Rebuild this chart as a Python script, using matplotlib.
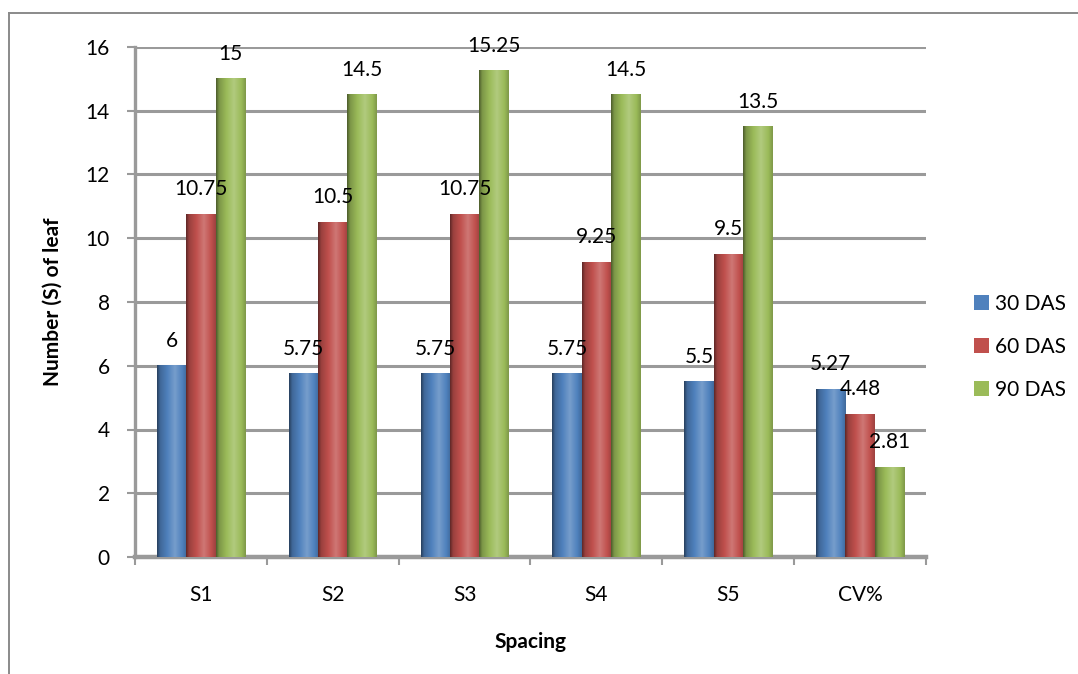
import matplotlib
matplotlib.use("Agg")
import matplotlib.pyplot as plt
import numpy as np
from matplotlib.colors import to_rgb
from matplotlib.lines import Line2D
from matplotlib.patches import Patch

plt.rcParams["font.family"] = ["Lato", "DejaVu Sans"]

categories = ["S1", "S2", "S3", "S4", "S5", "CV%"]
series_names = ["30 DAS", "60 DAS", "90 DAS"]
das30 = [6, 5.75, 5.75, 5.75, 5.5, 5.27]
das60 = [10.75, 10.5, 10.75, 9.25, 9.5, 4.48]
das90 = [15, 14.5, 15.25, 14.5, 13.5, 2.81]
colors = ["#4F81BD", "#C0504D", "#9BBB59"]

GRID = "#9a9a9a"
FS = 15


def cylinder(color, n=64):
    """Horizontal shading strip that makes a flat bar read as a cylinder."""
    base = np.array(to_rgb(color))
    t = np.linspace(0, 1, n)
    f = np.interp(t, [0, 0.1, 0.35, 0.6, 0.85, 1], [0.5, 0.8, 1.0, 1.14, 1.0, 0.82])
    rows = []
    for v in f:
        if v < 1:
            rows.append(base * v)
        else:
            rows.append(base + (1 - base) * (v - 1) * 1.6)
    return np.clip(np.array(rows), 0, 1)[None, :, :]


fig = plt.figure(figsize=(10.78, 6.74), dpi=100)
ax = fig.add_axes([135 / 1078, 1 - 557 / 674, 791 / 1078, 510 / 674])

x = np.arange(len(categories))
w = 1 / 4.5
for i, (vals, col) in enumerate(zip([das30, das60, das90], colors)):
    bars = ax.bar(x + (i - 1) * w, vals, w, color=col, zorder=2, linewidth=0)
    strip = cylinder(col)
    for b, v in zip(bars, vals):
        x0 = b.get_x()
        ax.imshow(strip, extent=(x0, x0 + b.get_width(), 0, b.get_height()),
                  aspect="auto", interpolation="bilinear", zorder=3)
        ax.annotate(f"{v:g}", (x0 + b.get_width() / 2, v), xytext=(0, 25),
                    textcoords="offset pixels", ha="center", va="center",
                    fontsize=FS, zorder=5)

ax.set_xlim(-0.5, len(categories) - 0.5)
ax.set_ylim(0, 16)
ax.set_yticks(np.arange(0, 17, 2))
ax.yaxis.grid(True, color=GRID, linewidth=2.2)
ax.set_axisbelow(True)

for s in ("top", "right"):
    ax.spines[s].set_visible(False)
ax.spines["left"].set_color(GRID)
ax.spines["left"].set_linewidth(2.4)
ax.spines["bottom"].set_color(GRID)
ax.spines["bottom"].set_linewidth(3.2)

ax.set_xticks(x)
ax.set_xticklabels(categories)
ax.set_xticks(np.arange(-0.5, len(categories)), minor=True)
ax.tick_params(axis="x", which="major", length=0, pad=20, labelsize=FS)
ax.tick_params(axis="x", which="minor", length=6, width=1.5, color=GRID, direction="out")
ax.tick_params(axis="y", length=6, width=1.5, color=GRID, pad=12, labelsize=FS)

ax.set_xlabel("Spacing", fontsize=FS, fontweight="bold")
ax.xaxis.set_label_coords(0.5, -0.147)
ax.set_ylabel("Number (S) of leaf", fontsize=FS, fontweight="bold")
ax.yaxis.set_label_coords(-0.092, 0.5)

handles = [Patch(facecolor=c, edgecolor="none") for c in colors]
fig.legend(handles, series_names, loc="center left",
           bbox_to_anchor=(974 / 1078, 1 - 347 / 674), frameon=False,
           fontsize=FS, handlelength=0.7, handleheight=0.7, handletextpad=0.3,
           labelspacing=1.1, borderpad=0, borderaxespad=0)

# chart frame (top and left edges)
fx, fy = 9 / 1078, 1 - 13 / 674
fig.add_artist(Line2D([fx, fx], [0, fy], color="#8a8a8a", linewidth=1.4))
fig.add_artist(Line2D([fx, 1], [fy, fy], color="#8a8a8a", linewidth=1.4))

fig.savefig("out.png", dpi=100, facecolor="white")
